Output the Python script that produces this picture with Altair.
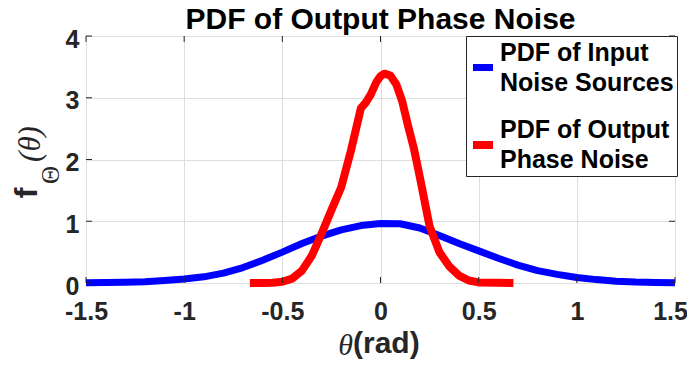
import altair as alt
import pandas as pd

# ---- data ----
blue_x = [-1.5, -1.4, -1.3, -1.2, -1.1, -1.0, -0.9, -0.8, -0.7, -0.6, -0.5, -0.4, -0.3, -0.2, -0.1,
          0.0, 0.1, 0.2, 0.3, 0.4, 0.5, 0.6, 0.7, 0.8, 0.9, 1.0, 1.1, 1.2, 1.3, 1.4, 1.5]
blue_y = [0.005, 0.008, 0.013, 0.022, 0.04, 0.065, 0.10, 0.16, 0.25, 0.37, 0.50, 0.64, 0.76, 0.86, 0.93,
          0.965, 0.96, 0.89, 0.77, 0.64, 0.52, 0.40, 0.29, 0.20, 0.14, 0.09, 0.055, 0.03, 0.015, 0.008, 0.005]

red_x = [-0.665, -0.6, -0.55, -0.5, -0.45, -0.4, -0.35, -0.3, -0.25, -0.2, -0.15, -0.1, -0.075, -0.05,
         -0.02, 0.0, 0.02, 0.05, 0.08, 0.11, 0.14, 0.17, 0.2, 0.25, 0.3, 0.35, 0.37, 0.4, 0.45, 0.5, 0.6, 0.677]
red_y = [0.0, 0.002, 0.005, 0.02, 0.07, 0.2, 0.44, 0.80, 1.18, 1.55, 2.15, 2.83, 2.92, 3.05,
         3.26, 3.35, 3.39, 3.36, 3.22, 2.95, 2.55, 2.18, 1.72, 0.92, 0.50, 0.27, 0.21, 0.12, 0.04, 0.01, 0.004, 0.0]

series_names = ["PDF of Input Noise Sources", "PDF of Output Phase Noise"]
series_colors = ["#0000ff", "#ff0000"]
series_widths = [7, 8]
x_ticks = [-1.5, -1.0, -0.5, 0.0, 0.5, 1.0, 1.5]
y_ticks = [0, 1, 2, 3, 4]

df = pd.concat([
    pd.DataFrame({"theta": blue_x, "pdf": blue_y, "series": series_names[0], "ord": range(len(blue_x))}),
    pd.DataFrame({"theta": red_x, "pdf": red_y, "series": series_names[1], "ord": range(len(red_x))}),
])
xt = pd.DataFrame({"theta": x_ticks})
yt = pd.DataFrame({"pdf": y_ticks})

W, H = 589, 247
FONT = "Liberation Sans"
AX = "#262626"

xs = alt.Scale(domain=[-1.5, 1.5], nice=False, zero=False)
ys = alt.Scale(domain=[0, 4], nice=False)

x_axis = alt.Axis(
    values=x_ticks, title=None, grid=True, gridColor="#dedede", gridWidth=1,
    domain=False, ticks=False, labelExpr="datum.value + ''",
    labelFont=FONT, labelFontSize=25, labelFontWeight="bold", labelColor=AX,
    labelPadding=16, labelFlush=False,
    labelOffset=alt.condition("datum.value == 1.5", alt.value(-5), alt.value(0)))
y_axis = alt.Axis(
    values=y_ticks, title=None, grid=True, gridColor="#dedede", gridWidth=1,
    domain=False, ticks=False, labelFont=FONT, labelFontSize=25, labelFontWeight="bold",
    labelColor=AX, labelPadding=7, labelOffset=3)

label_expr = ("datum.label == 'PDF of Input Noise Sources' ? ['PDF of Input', 'Noise Sources'] : "
              "['PDF of Output', 'Phase Noise']")

lines = alt.Chart(df).mark_line(strokeJoin="round").encode(
    x=alt.X("theta:Q", scale=xs, axis=x_axis),
    y=alt.Y("pdf:Q", scale=ys, axis=y_axis),
    color=alt.Color("series:N", scale=alt.Scale(domain=series_names, range=series_colors),
                    legend=alt.Legend(
                        title=None, orient="none", legendX=380, legendY=0,
                        symbolType="M-1,1.5L1,1.5", symbolSize=400, symbolStrokeWidth=5,
                        labelExpr=label_expr, labelFont=FONT, labelFontSize=25,
                        labelFontWeight="bold", labelColor="black", labelOffset=3,
                        labelLimit=400, padding=3, rowPadding=20,
                        strokeColor=AX, fillColor="white")),
    strokeWidth=alt.StrokeWidth("series:N", scale=alt.Scale(domain=series_names, range=series_widths),
                                legend=None),
    order="ord:Q",
)

tick_len = 6
xb = alt.Chart(xt).mark_rule(color=AX, strokeWidth=1).encode(
    x=alt.X("theta:Q", scale=xs, axis=x_axis), y=alt.value(H), y2=alt.value(H - tick_len))
xtop = alt.Chart(xt).mark_rule(color=AX, strokeWidth=1).encode(
    x=alt.X("theta:Q", scale=xs, axis=x_axis), y=alt.value(0), y2=alt.value(tick_len))
yl = alt.Chart(yt).mark_rule(color=AX, strokeWidth=1).encode(
    y=alt.Y("pdf:Q", scale=ys, axis=y_axis), x=alt.value(0), x2=alt.value(tick_len))
yr = alt.Chart(yt).mark_rule(color=AX, strokeWidth=1).encode(
    y=alt.Y("pdf:Q", scale=ys, axis=y_axis), x=alt.value(W), x2=alt.value(W - tick_len))

one = pd.DataFrame({"a": [0]})
# y axis title: f_Theta(theta)
yt_f = alt.Chart(one).mark_text(angle=270, align="center", baseline="middle", font=FONT,
                                fontSize=32, fontWeight="bold", color=AX).encode(
    x=alt.value(-59), y=alt.value(157), text=alt.value("f"))
yt_sub = alt.Chart(one).mark_text(angle=270, align="center", baseline="middle",
                                  font="Liberation Serif", fontSize=25, color=AX).encode(
    x=alt.value(-35), y=alt.value(139), text=alt.value("Θ"))
yt_par = alt.Chart(one).mark_text(angle=270, align="center", baseline="middle",
                                  font="Liberation Serif", fontSize=31, fontStyle="italic", color=AX).encode(
    x=alt.value(-55), y=alt.value(108), text=alt.value("(θ)"))
# x axis title: theta(rad)
xt_th = alt.Chart(one).mark_text(align="right", baseline="alphabetic", font="Liberation Serif",
                                 fontSize=30, fontStyle="italic", color=AX).encode(
    x=alt.value(267), y=alt.value(319), text=alt.value("θ"))
xt_rad = alt.Chart(one).mark_text(align="left", baseline="alphabetic", font=FONT,
                                  fontSize=30, fontWeight="bold", color=AX).encode(
    x=alt.value(267), y=alt.value(317), text=alt.value("(rad)"))

chart = alt.layer(lines, xb, xtop, yl, yr, yt_f, yt_sub, yt_par, xt_th, xt_rad).properties(
    width=W, height=H,
    title=alt.TitleParams("PDF of Output Phase Noise", font=FONT, fontSize=30, fontWeight="bold",
                          color="black", anchor="middle", offset=3, dy=11),
    autosize=alt.AutoSizeParams(type="none"),
    padding={"left": 78, "top": 28, "right": 12, "bottom": 78},
).configure_view(stroke=AX, strokeWidth=1).configure(
    background="white",
    style={"guide-label": {"lineHeight": 30}},
)

chart.save("out.html", embed_options={"renderer": "svg", "actions": False})
